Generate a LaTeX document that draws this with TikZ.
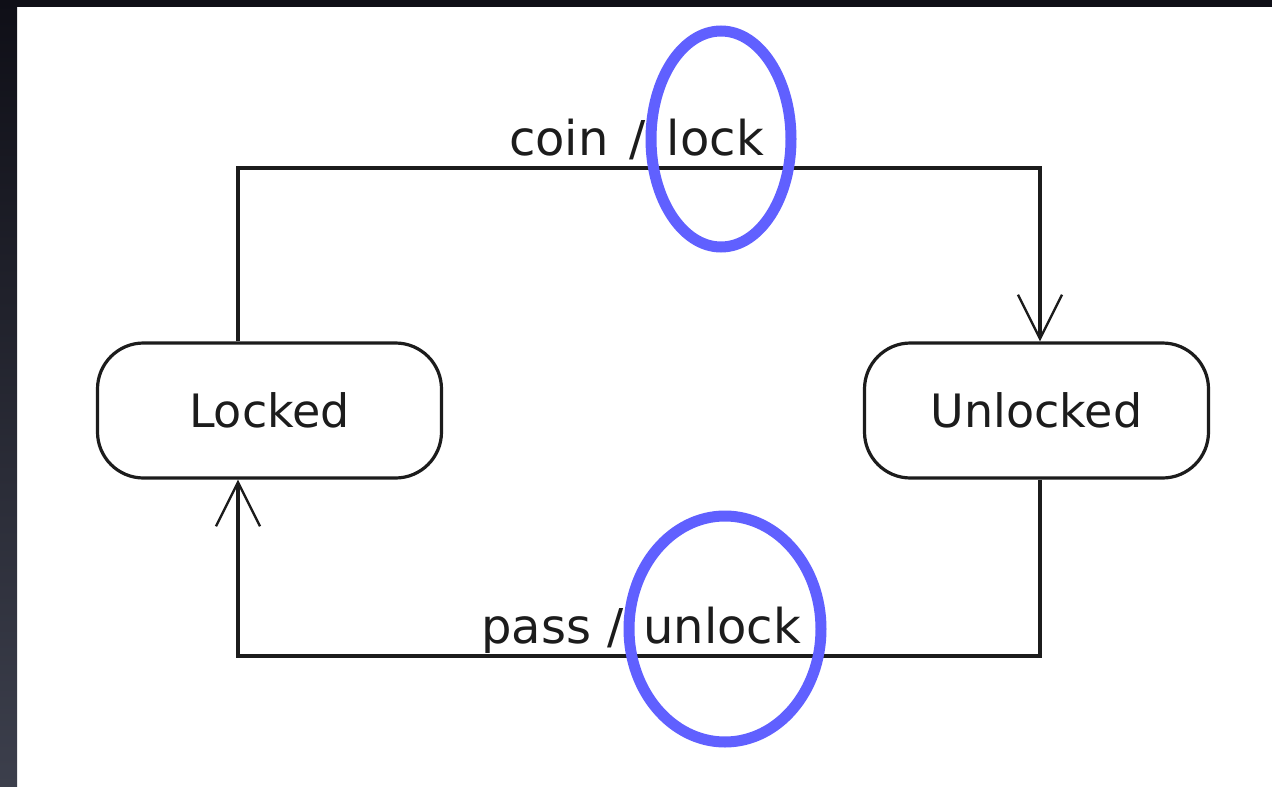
\documentclass[tikz,border=0pt]{standalone}
\usepackage{fontspec}
\setmainfont{DejaVu Sans}
\usetikzlibrary{arrows.meta}
\definecolor{ink}{HTML}{1C1C1C}
\definecolor{markblue}{HTML}{6060FF}
\definecolor{frametop}{HTML}{0F0F17}
\definecolor{framebot}{HTML}{3C3F4C}
\tikzset{
  state/.style={draw=ink, line width=3.2pt, rounded corners=46pt,
    minimum width=344pt, minimum height=135pt, inner sep=0pt,
    font=\fontsize{46}{55}\selectfont, text=ink},
  trans/.style={draw=ink, line width=3.2pt,
    -{Straight Barb[length=44pt, width=44pt, line width=2.4pt]}},
  tlabel/.style={font=\fontsize{48}{57}\selectfont, text=ink, inner sep=0pt, anchor=base west},
  ring/.style={draw=markblue, line width=11pt}
}
\begin{document}
\begin{tikzpicture}[x=1pt, y=-1pt]
  \useasboundingbox (0,0) rectangle (1272,787);
  % dark surround of the slide
  \fill[white] (0,0) rectangle (1272,787);
  \shade[top color=frametop, bottom color=framebot] (0,0) rectangle (17,787);
  \fill[frametop] (0,0) rectangle (1272,7);

  % states
  \node[state] (locked) at (269.5,410.5) {Locked};
  \node[state] (unlocked) at (1036.5,410.5) {Unlocked};

  % bends of the transitions
  \coordinate (tl) at (238,168);
  \coordinate (tr) at (1040,168);
  \coordinate (bl) at (238,656);
  \coordinate (br) at (1040,656);

  % transitions
  \draw[trans] (locked.north -| tl) -- (tl) -- (tr) -- (unlocked.north -| tr);
  \draw[trans] (unlocked.south -| br) -- (br) -- (bl) -- (locked.south -| bl);

  % transition labels
  \node[tlabel] (coinlbl) at (509,155) {coin\hspace{21pt}/\hspace{21pt}lock};
  \node[tlabel] (passlbl) at (481,643) {pass\hspace{16pt}/\hspace{20pt}unlock};

  % highlight rings
  \draw[ring] (721,139) ellipse [x radius=70, y radius=108];
  \draw[ring] (725,629) ellipse [x radius=96, y radius=113];
\end{tikzpicture}
\end{document}
